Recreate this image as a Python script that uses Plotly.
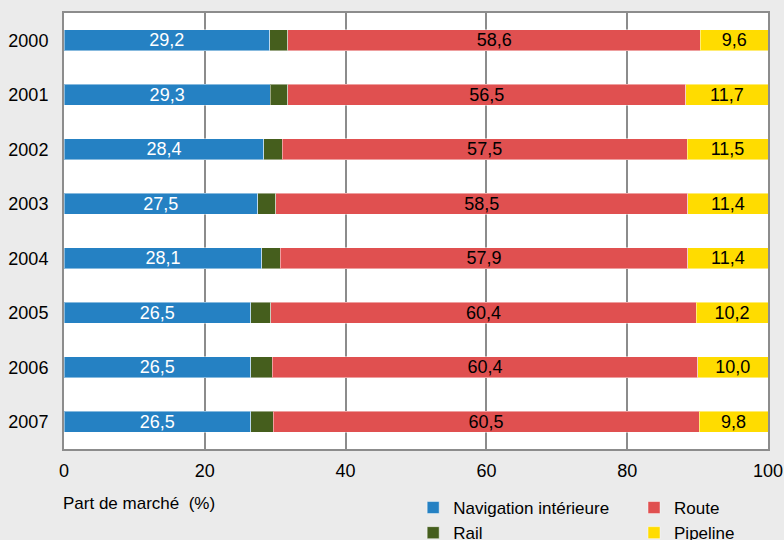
import plotly.graph_objects as go

years = ["2000", "2001", "2002", "2003", "2004", "2005", "2006", "2007"]
navigation = [29.2, 29.3, 28.4, 27.5, 28.1, 26.5, 26.5, 26.5]
rail = [2.6, 2.5, 2.6, 2.6, 2.6, 2.9, 3.1, 3.2]
route = [58.6, 56.5, 57.5, 58.5, 57.9, 60.4, 60.4, 60.5]
pipeline = [9.6, 11.7, 11.5, 11.4, 11.4, 10.2, 10.0, 9.8]
x_ticks = [0, 20, 40, 60, 80, 100]

FONT = "Liberation Sans, Arial, Helvetica, sans-serif"
edge = dict(color="rgba(255,255,255,0.45)", width=1)

series = [
    ("Navigation intérieure", navigation, "#2581c3", "white", True, "legend", 1),
    ("Rail", rail, "#455e1d", "black", False, "legend", 2),
    ("Route", route, "#e05050", "black", True, "legend2", 1),
    ("Pipeline", pipeline, "#ffdc00", "black", True, "legend2", 2),
]

fig = go.Figure()
for name, vals, color, tcolor, labelled, leg, rank in series:
    fig.add_trace(go.Bar(
        y=years, x=vals, name=name, orientation="h",
        marker=dict(color=color, line=edge),
        width=0.385,
        texttemplate="%{x:.1f}" if labelled else None,
        textposition="inside" if labelled else "none",
        insidetextanchor="middle",
        textangle=0,
        constraintext="none",
        cliponaxis=False,
        insidetextfont=dict(color=tcolor, size=18, family=FONT),
        legend=leg, legendrank=rank,
        hoverinfo="skip",
    ))

legend_common = dict(
    orientation="v", xanchor="left", yanchor="top",
    xref="container", yref="container",
    bgcolor="rgba(0,0,0,0)", font=dict(size=17),
    itemwidth=30, tracegroupgap=0, traceorder="normal",
)

fig.update_layout(
    width=784, height=540,
    barmode="stack",
    separators=", ",
    paper_bgcolor="#ebebeb",
    plot_bgcolor="white",
    margin=dict(l=64, r=16, t=13, b=91, autoexpand=False),
    font=dict(family=FONT, size=17, color="black"),
    xaxis=dict(
        range=[0, 100], tickvals=x_ticks, ticks="",
        showgrid=True, gridcolor="#8c8c8c", gridwidth=2,
        showline=True, linecolor="#8c8c8c", linewidth=2, mirror=True,
        zeroline=False, ticklabelstandoff=4,
        tickfont=dict(size=18),
    ),
    yaxis=dict(
        categoryorder="array", categoryarray=years,
        autorange=False, range=[7.5, -0.5],
        ticks="", showgrid=False,
        showline=True, linecolor="#8c8c8c", linewidth=2, mirror=True,
        ticklabelstandoff=10,
        tickfont=dict(size=18),
    ),
    legend=dict(legend_common, x=0.527, y=0.0926),
    legend2=dict(legend_common, x=0.8087, y=0.0926),
    showlegend=True,
    annotations=[dict(
        text="Part de marché  (%)", xref="paper", yref="paper",
        x=-0.004, y=-0.124, xanchor="left", yanchor="middle",
        showarrow=False, font=dict(size=17),
    )],
)

fig.write_html("out.html")
